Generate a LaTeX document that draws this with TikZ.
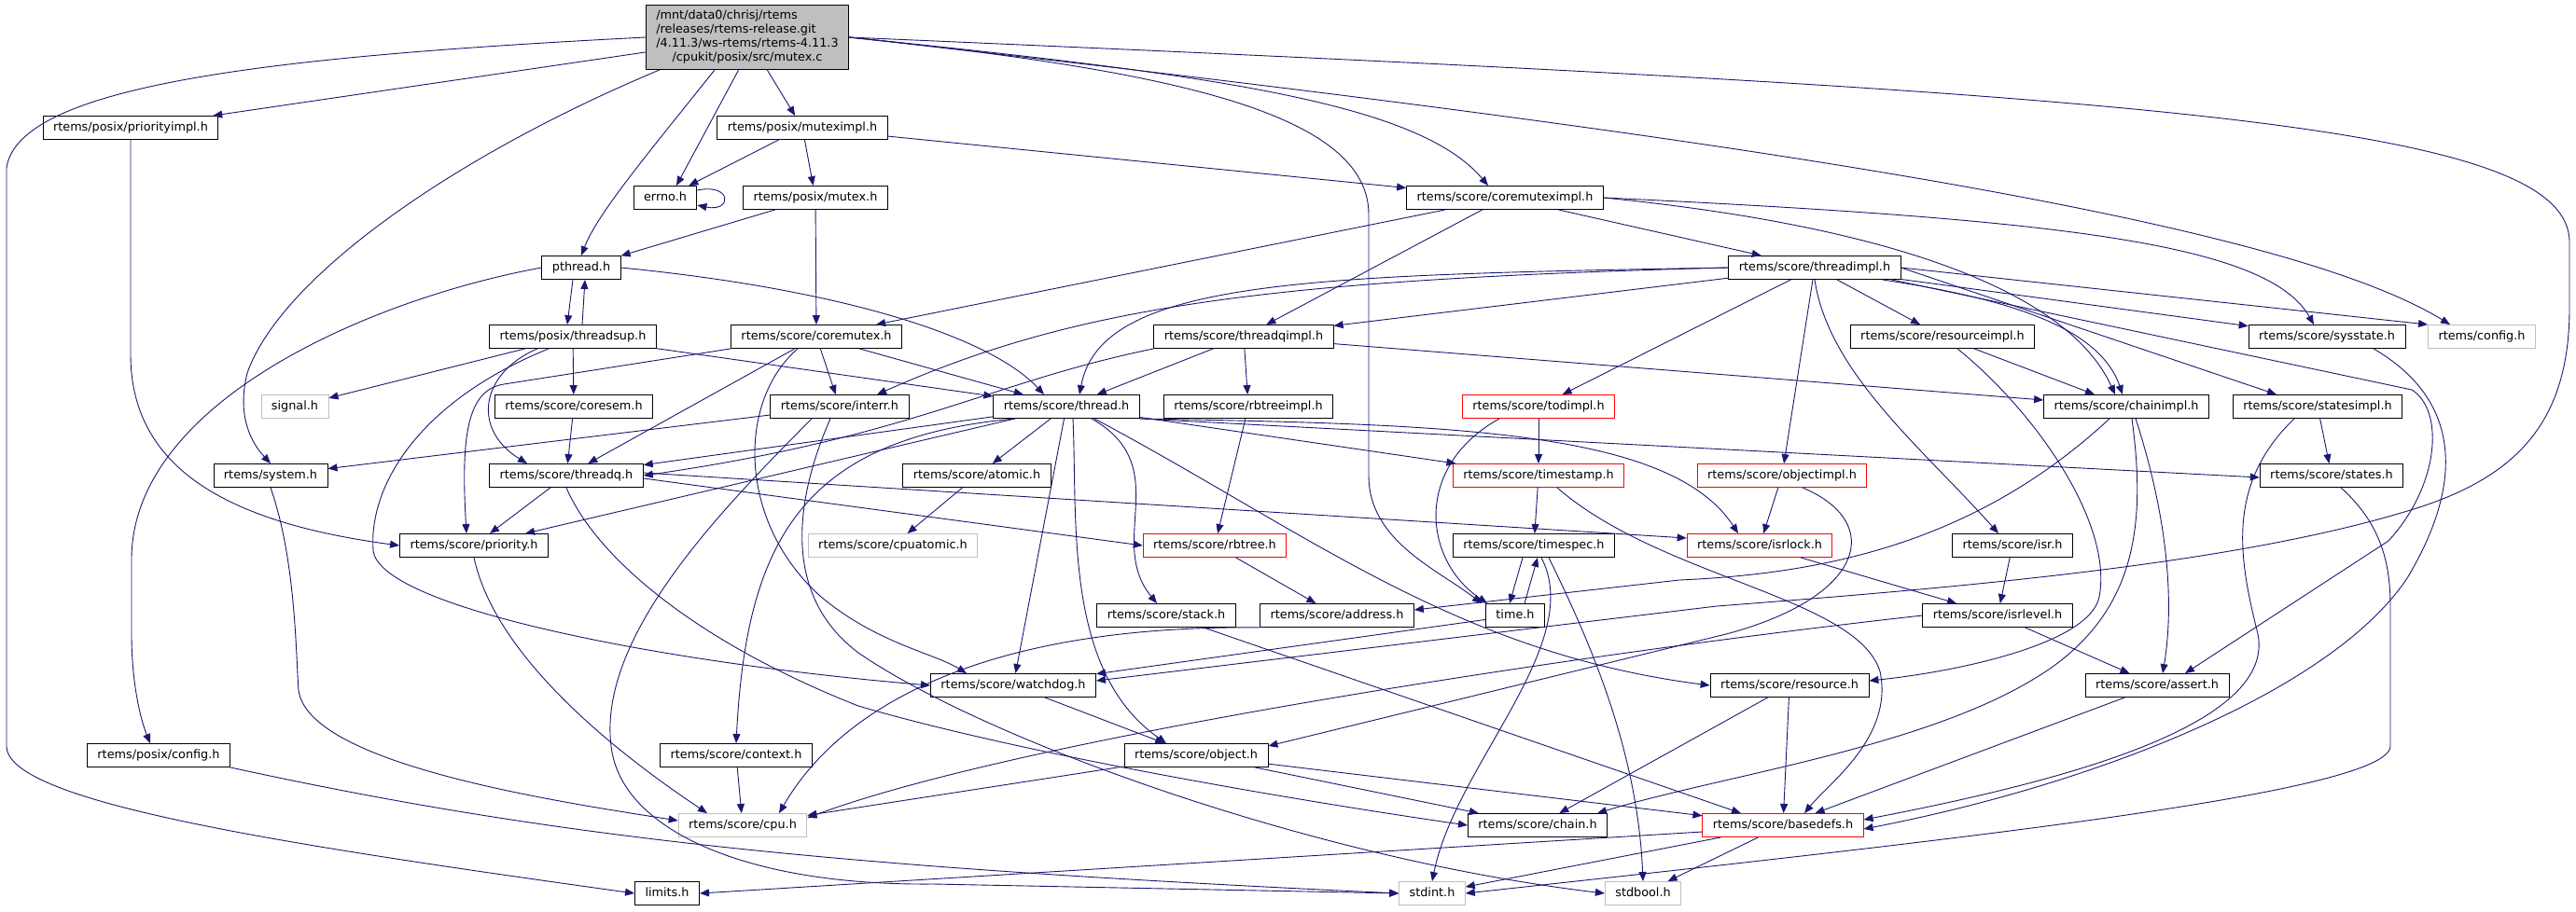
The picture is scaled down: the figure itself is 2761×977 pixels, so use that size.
\documentclass[tikz,border=0pt]{standalone}
\usepackage{fontspec}
\setmainfont{DejaVu Sans}
\usetikzlibrary{arrows.meta}
\definecolor{edgeblue}{HTML}{191970}
\definecolor{nodegray}{HTML}{BFBFBF}
\begin{document}
\begin{tikzpicture}[x=1pt, y=-1pt,
	filebox/.style={draw=black, fill=white, line width=0.9pt, font=\fontsize{12.8}{15}\selectfont, inner xsep=11pt, inner ysep=0pt, minimum height=25pt},
	incfile/.style={filebox, text height=10pt, text depth=3pt},
	sysfile/.style={incfile, draw=nodegray},
	redfile/.style={incfile, draw=red},
	dep/.style={draw=edgeblue, line width=0.9pt, -{Triangle[length=10pt,width=8pt]}},
]
	\useasboundingbox (0,0) rectangle (2761,977);
	\node[filebox, fill=nodegray, minimum height=69pt] (root) at (801,40) {\begin{tabular}{@{}l@{}}/mnt/data0/chrisj/rtems\\/releases/rtems-release.git\\/4.11.3/ws-rtems/rtems-4.11.3\\\multicolumn{1}{@{}c@{}}{/cpukit/posix/src/mutex.c}\end{tabular}};
	\node[incfile] (ppriorityimpl) at (140,137) {rtems/posix/priorityimpl.h};
	\node[incfile] (pmuteximpl) at (860,137) {rtems/posix/muteximpl.h};
	\node[incfile] (errno) at (713,212) {errno.h};
	\node[incfile] (pmutex) at (874,212) {rtems/posix/mutex.h};
	\node[incfile] (coremuteximpl) at (1613,212) {rtems/score/coremuteximpl.h};
	\node[incfile] (pthread) at (623,287) {pthread.h};
	\node[incfile] (threadimpl) at (1945,287) {rtems/score/threadimpl.h};
	\node[incfile] (threadsup) at (614,361) {rtems/posix/threadsup.h};
	\node[incfile] (coremutex) at (875,361) {rtems/score/coremutex.h};
	\node[incfile] (threadqimpl) at (1333,361) {rtems/score/threadqimpl.h};
	\node[incfile] (resourceimpl) at (2082,361) {rtems/score/resourceimpl.h};
	\node[incfile] (sysstate) at (2494,361) {rtems/score/sysstate.h};
	\node[sysfile] (config) at (2660,361) {rtems/config.h};
	\node[sysfile] (signal) at (316,436) {signal.h};
	\node[incfile] (coresem) at (615,436) {rtems/score/coresem.h};
	\node[incfile] (interr) at (900,436) {rtems/score/interr.h};
	\node[incfile] (thread) at (1143,436) {rtems/score/thread.h};
	\node[incfile] (rbtreeimpl) at (1338,436) {rtems/score/rbtreeimpl.h};
	\node[redfile] (todimpl) at (1649,436) {rtems/score/todimpl.h};
	\node[incfile] (chainimpl) at (2279,436) {rtems/score/chainimpl.h};
	\node[incfile] (statesimpl) at (2484,436) {rtems/score/statesimpl.h};
	\node[incfile] (system) at (290,510) {rtems/system.h};
	\node[incfile] (threadq) at (607,510) {rtems/score/threadq.h};
	\node[incfile] (atomic) at (1047,510) {rtems/score/atomic.h};
	\node[redfile] (timestamp) at (1649,510) {rtems/score/timestamp.h};
	\node[redfile] (objectimpl) at (1910,510) {rtems/score/objectimpl.h};
	\node[incfile] (states) at (2499,510) {rtems/score/states.h};
	\node[incfile] (priority) at (508,585) {rtems/score/priority.h};
	\node[sysfile] (cpuatomic) at (957,585) {rtems/score/cpuatomic.h};
	\node[redfile] (rbtree) at (1302,585) {rtems/score/rbtree.h};
	\node[incfile] (timespec) at (1644,585) {rtems/score/timespec.h};
	\node[redfile] (isrlock) at (1886,585) {rtems/score/isrlock.h};
	\node[incfile] (isr) at (2157,585) {rtems/score/isr.h};
	\node[incfile] (stack) at (1250,660) {rtems/score/stack.h};
	\node[incfile] (address) at (1433,660) {rtems/score/address.h};
	\node[incfile] (time) at (1624,660) {time.h};
	\node[incfile] (isrlevel) at (2141,660) {rtems/score/isrlevel.h};
	\node[incfile] (watchdog) at (1086,735) {rtems/score/watchdog.h};
	\node[incfile] (resource) at (1918,735) {rtems/score/resource.h};
	\node[incfile] (assert) at (2312,735) {rtems/score/assert.h};
	\node[incfile] (pconfig) at (170,810) {rtems/posix/config.h};
	\node[incfile] (context) at (789,810) {rtems/score/context.h};
	\node[incfile] (object) at (1282,810) {rtems/score/object.h};
	\node[sysfile] (cpu) at (796,885) {rtems/score/cpu.h};
	\node[incfile] (chain) at (1648,885) {rtems/score/chain.h};
	\node[redfile] (basedefs) at (1911,885) {rtems/score/basedefs.h};
	\node[incfile] (limits) at (715,958) {limits.h};
	\node[sysfile] (stdint) at (1535,958) {stdint.h};
	\node[sysfile] (stdbool) at (1761,958) {stdbool.h};

	\draw[dep] (root.west) .. controls (300,60) and (20,90) .. (7,180) -- (7,800) .. controls (7,860) and (300,905) .. (limits.west);
	\draw[dep] (root) -- (ppriorityimpl);
	\draw[dep] ([xshift=15pt]root.south west) .. controls (480,170) and (300,300) .. (265,400) .. controls (255,440) and (265,470) .. (system.north);
	\draw[dep] (root.225) .. controls (690,170) and (640,230) .. (pthread.north);
	\draw[dep] (root.255) -- ([xshift=12pt]errno.north);
	\draw[dep] (root) -- (pmuteximpl);
	\draw[dep] (root.east) .. controls (1250,75) and (1467,120) .. (1467,230) -- (1467,510) .. controls (1467,580) and (1540,610) .. ([xshift=-4pt]time.north west);
	\draw[dep] (root.east) .. controls (1300,80) and (1520,110) .. ([xshift=-18pt]coremuteximpl.north);
	\draw[dep] (root.east) .. controls (1900,150) and (2450,240) .. ([xshift=-34pt]config.north);
	\draw[dep] (root.east) .. controls (2300,100) and (2754,130) .. (2754,260) -- (2754,330) .. controls (2754,450) and (2700,510) .. (2590,545) .. controls (2400,605) and (2100,630) .. (1840,650) -- ([yshift=5pt]watchdog.east);
	\draw[dep] (ppriorityimpl.south) -- (140,380) .. controls (140,500) and (240,560) .. (priority.west);
	\draw[dep] (pmuteximpl) -- (errno);
	\draw[dep] (pmuteximpl) -- (pmutex);
	\draw[dep] (pmuteximpl) -- (coremuteximpl);
	\draw[dep] ([yshift=8pt]errno.east) .. controls (785,196) and (785,228) .. ([yshift=-8pt]errno.east);
	\draw[dep] (pmutex) -- (pthread);
	\draw[dep] (pmutex) -- (coremutex);
	\draw[dep] ([xshift=-9pt]pthread.south) -- ([xshift=-6pt]threadsup.north);
	\draw[dep] ([xshift=10pt]threadsup.north) -- ([xshift=4pt]pthread.south);
	\draw[dep] (pthread.west) .. controls (400,320) and (141,430) .. (141,600) -- (141,680) .. controls (141,730) and (150,770) .. ([xshift=-9pt]pconfig.north);
	\draw[dep] (pthread.east) .. controls (900,310) and (1060,360) .. ([xshift=-24pt]thread.north);
	\draw[dep] (threadsup) -- (signal);
	\draw[dep] (threadsup) -- (coresem);
	\draw[dep] ([xshift=-38pt]threadsup.south) .. controls (515,400) and (505,460) .. ([xshift=-42pt]threadq.north);
	\draw[dep] (threadsup) -- (thread);
	\draw[dep] ([xshift=-26pt]threadsup.south) .. controls (450,430) and (395,520) .. (400,590) .. controls (405,650) and (700,710) .. (watchdog.west);
	\draw[dep] (coremuteximpl) -- (coremutex);
	\draw[dep] (coremuteximpl) -- (threadqimpl);
	\draw[dep] (coremuteximpl) -- (threadimpl);
	\draw[dep] (coremuteximpl.east) .. controls (2200,235) and (2430,260) .. ([xshift=-14pt]sysstate.north);
	\draw[dep] (coremuteximpl.east) .. controls (2050,245) and (2220,320) .. ([xshift=-12pt]chainimpl.north);
	\draw[dep] (coremutex) -- (thread);
	\draw[dep] (coremutex) -- (threadq);
	\draw[dep] (coremutex.south west) -- (540,412) .. controls (500,418) and (494,470) .. ([xshift=-8pt]priority.north);
	\draw[dep] ([xshift=-20pt]coremutex.south) .. controls (790,430) and (790,560) .. (880,640) .. controls (940,690) and (1000,700) .. ([xshift=-50pt]watchdog.north);
	\draw[dep] (coremutex) -- (interr);
	\draw[dep] (coresem) -- (threadq);
	\draw[dep] (interr) -- (system);
	\draw[dep] ([xshift=-30pt]interr.south) .. controls (780,540) and (640,680) .. (655,800) .. controls (665,890) and (800,950) .. (1000,948) -- (stdint.west);
	\draw[dep] ([xshift=-10pt]interr.south) .. controls (850,540) and (840,640) .. (920,700) .. controls (1050,790) and (1400,920) .. (stdbool.west);
	\draw[dep] (threadimpl.west) .. controls (1400,295) and (1180,300) .. ([xshift=14pt]thread.north);
	\draw[dep] (threadimpl) -- (threadqimpl);
	\draw[dep] (threadimpl.west) .. controls (1350,300) and (1150,330) .. ([xshift=40pt]interr.north);
	\draw[dep] (threadimpl) -- (todimpl);
	\draw[dep] (threadimpl) -- (objectimpl);
	\draw[dep] (threadimpl.south) .. controls (1960,400) and (2060,480) .. ([xshift=-15pt]isr.north);
	\draw[dep] (threadimpl) -- (resourceimpl);
	\draw[dep] ([xshift=-20pt]threadimpl.south east) .. controls (2150,320) and (2250,350) .. ([xshift=-4pt]chainimpl.north);
	\draw[dep] (threadimpl.east) -- ([xshift=-44pt]statesimpl.north);
	\draw[dep] (threadimpl) -- (sysstate);
	\draw[dep] (threadimpl.east) -- (config.north west);
	\draw[dep] ([xshift=-10pt]threadimpl.south east) -- (2585,418) .. controls (2620,440) and (2615,520) .. (2560,580) -- ([xshift=30pt]assert.north);
	\draw[dep] (threadqimpl) -- (thread);
	\draw[dep] (threadqimpl.south west) .. controls (1060,410) and (980,468) .. (threadq.east);
	\draw[dep] (threadqimpl) -- (rbtreeimpl);
	\draw[dep] (threadqimpl) -- (chainimpl);
	\draw[dep] (thread) -- (threadq);
	\draw[dep] (thread) -- (priority);
	\draw[dep] (thread) -- (atomic);
	\draw[dep] (thread) -- (watchdog);
	\draw[dep] ([xshift=-55pt]thread.south) .. controls (860,470) and (800,580) .. (context.north);
	\draw[dep] ([xshift=7pt]thread.south) .. controls (1155,560) and (1140,720) .. ([xshift=-32pt]object.north);
	\draw[dep] ([xshift=27pt]thread.south) .. controls (1260,500) and (1185,580) .. ([xshift=-10pt]stack.north);
	\draw[dep] ([xshift=30pt]thread.south) .. controls (1400,570) and (1560,700) .. (resource.west);
	\draw[dep] (thread) -- (timestamp);
	\draw[dep] (thread.south east) .. controls (1550,455) and (1790,460) .. ([xshift=-23pt]isrlock.north);
	\draw[dep] (thread.south east) -- ([yshift=-2pt]states.west);
	\draw[dep] (rbtreeimpl) -- (rbtree);
	\draw[dep] (todimpl) -- (timestamp);
	\draw[dep] ([xshift=-42pt]todimpl.south) .. controls (1515,500) and (1525,600) .. ([xshift=-30pt]time.north);
	\draw[dep] (resourceimpl) -- (chainimpl);
	\draw[dep] ([xshift=16pt]resourceimpl.south) .. controls (2180,440) and (2265,560) .. (2250,640) .. controls (2240,690) and (2100,720) .. ([yshift=5pt]resource.east);
	\draw[dep] ([xshift=-18pt]chainimpl.south) .. controls (2120,580) and (1960,615) .. (1800,622) -- ([yshift=6pt]address.east);
	\draw[dep] ([xshift=6pt]chainimpl.south) .. controls (2300,560) and (2290,650) .. (2200,715) .. controls (2080,800) and (1850,830) .. ([xshift=-11pt]chain.north east);
	\draw[dep] ([xshift=10pt]chainimpl.south) .. controls (2325,560) and (2330,650) .. ([xshift=6pt]assert.north);
	\draw[dep] (statesimpl) -- (states);
	\draw[dep] ([xshift=-25pt]statesimpl.south) .. controls (2385,520) and (2400,600) .. (2420,680) .. controls (2440,780) and (2200,840) .. ([yshift=6pt]basedefs.east);
	\draw[dep] ([xshift=50pt]sysstate.south) .. controls (2640,430) and (2640,520) .. (2580,620) .. controls (2500,740) and (2250,840) .. ([yshift=-4pt]basedefs.east);
	\draw[dep] (system.south) .. controls (317,600) and (317,700) .. (320,740) .. controls (330,820) and (600,860) .. ([yshift=5pt]cpu.west);
	\draw[dep] (threadq) -- (priority);
	\draw[dep] ([yshift=-3pt]threadq.east) -- (rbtree.west);
	\draw[dep] ([yshift=3pt]threadq.east) -- ([yshift=8pt]isrlock.west);
	\draw[dep] (threadq.south) .. controls (640,600) and (750,690) .. (920,757) .. controls (1100,810) and (1400,860) .. (chain.west);
	\draw[dep] (atomic) -- (cpuatomic);
	\draw[dep] (timestamp) -- (timespec);
	\draw[dep] ([xshift=20pt]timestamp.south) .. controls (1780,620) and (1990,640) .. (2015,720) .. controls (2030,790) and (1960,840) .. ([xshift=23pt]basedefs.north);
	\draw[dep] (objectimpl) -- (isrlock);
	\draw[dep] ([xshift=22pt]objectimpl.south) .. controls (2020,560) and (2000,640) .. (1850,680) -- ([yshift=10pt]object.east);
	\draw[dep] ([xshift=10pt]states.south) .. controls (2550,560) and (2562,600) .. (2562,650) -- (2562,800) .. controls (2562,850) and (2100,900) .. (stdint.east);
	\draw[dep] (priority.south) .. controls (530,700) and (650,800) .. ([xshift=-38pt]cpu.north);
	\draw[dep] (rbtree) -- (address);
	\draw[dep] ([xshift=-12pt]timespec.south) -- ([xshift=-6pt]time.north);
	\draw[dep] ([xshift=10pt]time.north) -- ([xshift=4pt]timespec.south);
	\draw[dep] ([xshift=8pt]timespec.south) .. controls (1700,690) and (1560,820) .. (stdint.north);
	\draw[dep] ([xshift=16pt]timespec.south) .. controls (1700,680) and (1755,800) .. (stdbool.north);
	\draw[dep] (time) -- (watchdog);
	\draw[dep] (isrlock) -- (isrlevel);
	\draw[dep] (isr) -- (isrlevel);
	\draw[dep] ([xshift=40pt]stack.south) -- ([xshift=-45pt]basedefs.north);
	\draw[dep] (address.south west) .. controls (1050,670) and (900,760) .. ([xshift=39pt]cpu.north);
	\draw[dep] (isrlevel) -- (assert);
	\draw[dep] (isrlevel.west) .. controls (1700,700) and (1100,790) .. ([yshift=8pt]cpu.east);
	\draw[dep] (watchdog) -- (object);
	\draw[dep] (resource) -- (chain);
	\draw[dep] (resource) -- (basedefs);
	\draw[dep] (assert) -- (basedefs);
	\draw[dep] (pconfig.south east) .. controls (600,900) and (900,930) .. (stdint.west);
	\draw[dep] (context) -- (cpu);
	\draw[dep] (object) -- (chain);
	\draw[dep] (object) -- (basedefs);
	\draw[dep] (object) -- (cpu);
	\draw[dep] ([yshift=-7pt]basedefs.west) -- (limits.east);
	\draw[dep] (basedefs) -- (stdint);
	\draw[dep] (basedefs) -- (stdbool);
\end{tikzpicture}
\end{document}
